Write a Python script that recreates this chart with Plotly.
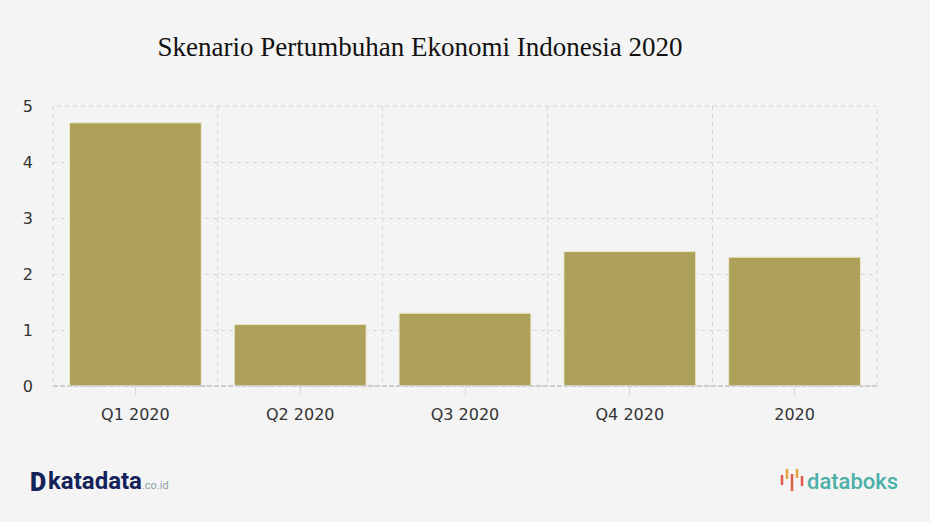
import plotly.graph_objects as go

# data
categories = ['Q1 2020', 'Q2 2020', 'Q3 2020', 'Q4 2020', '2020']
growth = [4.7, 1.1, 1.3, 2.4, 2.3]
y_ticks = [0, 1, 2, 3, 4, 5]

BG = '#f4f4f4'
BAR = '#ada15a'
GRID = '#d6d6d6'

W, H = 930, 522
L, R, T, B = 53, 53, 106, 136
PW, PH = W - L - R, H - T - B


def px_x(xp):
    return (xp - L) / PW


def px_y(yp):
    return ((H - B) - yp) / PH


fig = go.Figure()

fig.add_trace(go.Bar(
    x=categories,
    y=growth,
    marker=dict(color=BAR, line=dict(color='#ece8cf', width=1)),
    width=0.8,
    hoverinfo='x+y',
))

# invisible trace on second x axis so boundary gridlines get drawn
fig.add_trace(go.Scatter(
    x=[-0.5, len(categories) - 0.5], y=[0, 0],
    xaxis='x2', mode='markers', marker=dict(opacity=0),
    hoverinfo='skip', showlegend=False,
))

fig.update_layout(
    width=W, height=H,
    paper_bgcolor=BG, plot_bgcolor=BG,
    margin=dict(l=L, r=R, t=T, b=B),
    showlegend=False,
    bargap=0.2,
    title=dict(
        text='Skenario Pertumbuhan Ekonomi Indonesia 2020',
        font=dict(family='Liberation Serif', size=27, color='#111111'),
        x=420 / W, xanchor='center', y=1 - 47 / H, yanchor='middle',
    ),
    xaxis=dict(
        type='category',
        showgrid=False,
        ticks='outside', ticklen=8, tickcolor=GRID, tickwidth=1,
        ticklabelstandoff=6,
        tickfont=dict(family='DejaVu Sans', size=16, color='#333333'),
        showline=False,
        zeroline=False,
        fixedrange=True,
    ),
    xaxis2=dict(
        overlaying='x', range=[-0.5, len(categories) - 0.5],
        tick0=-0.5, dtick=1,
        showgrid=True, gridcolor=GRID, griddash='4px,4px', gridwidth=1,
        showticklabels=False, ticks='', zeroline=False,
    ),
    yaxis=dict(
        range=[0, 5],
        tickvals=y_ticks,
        showgrid=True, gridcolor=GRID, griddash='4px,4px', gridwidth=1,
        zeroline=False,
        ticks='', ticklabelstandoff=19,
        tickfont=dict(family='DejaVu Sans', size=16, color='#333333'),
        fixedrange=True,
    ),
)

# dashed frame around the plot area, heavier at the base
fig.add_shape(type='rect', xref='paper', yref='paper', x0=0, x1=1, y0=0, y1=1,
              line=dict(color=GRID, width=1, dash='4px,4px'), layer='below')
fig.add_shape(type='line', xref='paper', yref='paper', x0=0, x1=1, y0=0, y1=0,
              line=dict(color='#cdcdcd', width=2, dash='5px,2px'))

# footer logos as text
fig.add_annotation(
    xref='paper', yref='paper', x=px_x(28), y=px_y(482),
    xanchor='left', yanchor='middle', showarrow=False,
    text='D',
    font=dict(family='Roboto', size=25, color='#14225a', weight=900),
)
fig.add_annotation(
    xref='paper', yref='paper', x=px_x(46), y=px_y(481),
    xanchor='left', yanchor='middle', showarrow=False,
    text='<b>katadata</b><span style="font-size:11px;color:#8aa3a8">.co.id</span>',
    font=dict(family='Roboto', size=24, color='#14225a'),
)
fig.add_annotation(
    xref='paper', yref='paper', x=px_x(900), y=px_y(481),
    xanchor='right', yanchor='middle', showarrow=False,
    text='databoks',
    font=dict(family='Roboto', size=22, color='#4ab0a8', weight=500),
)
# databoks bar icon
for xp, y0, y1, c in [(782, 475, 485, '#e05a4a'), (787, 469, 479, '#e8a33d'),
                      (792, 474, 491, '#e05a4a'), (797, 469, 478, '#e8a33d'),
                      (802, 476, 486, '#e05a4a')]:
    fig.add_shape(type='line', xref='paper', yref='paper',
                  x0=px_x(xp), x1=px_x(xp), y0=px_y(y0), y1=px_y(y1),
                  line=dict(color=c, width=2.5))

fig.write_html('out.html', config={'displayModeBar': False},
               post_script="document.body.style.margin='0';")
